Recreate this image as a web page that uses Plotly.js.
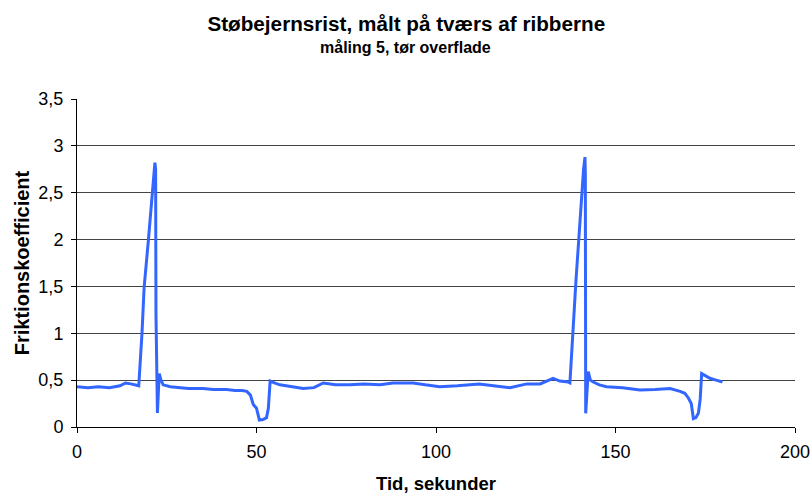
<!DOCTYPE html>
<html>
<head>
<meta charset="utf-8">
<script src="https://cdn.plot.ly/plotly-3.0.1.min.js"></script>
<style>html,body{margin:0;padding:0;background:#fff;}#chart{width:811px;height:496px;}</style>
</head>
<body>
<div id="chart"></div>
<script>
const timeSec = [0, 3, 6, 9, 12, 13.5, 15, 16.5, 17.2, 18.1, 18.7, 19.9, 21.2, 21.7, 21.9, 22.0, 22.4, 22.9, 23.4, 24, 26, 27.8, 31, 35, 38, 41.7, 44, 46, 47.3, 48.3, 49.1, 50.0, 50.8, 51.8, 52.8, 53.3, 53.8, 55, 56.5, 60, 63, 66, 68.6, 72, 76, 80, 84.4, 88, 93.6, 97, 101, 106, 112, 116, 120.6, 125.3, 129, 132.6, 134.5, 136.8, 137.3, 139, 140.1, 141.1, 141.5, 141.6, 141.7, 142.0, 142.4, 143.0, 143.8, 145.5, 147.5, 152, 156.8, 161, 165.2, 168, 169.3, 170.3, 171.1, 171.7, 172.4, 173.1, 173.6, 174, 175, 176.3, 178, 179.8];
const friction = [0.43, 0.42, 0.43, 0.42, 0.44, 0.47, 0.46, 0.45, 0.44, 1.0, 1.49, 2.0, 2.6, 2.82, 2.75, 1.2, 0.15, 0.57, 0.5, 0.45, 0.43, 0.42, 0.41, 0.41, 0.40, 0.40, 0.39, 0.39, 0.38, 0.34, 0.24, 0.20, 0.075, 0.08, 0.10, 0.2, 0.49, 0.47, 0.45, 0.43, 0.41, 0.42, 0.47, 0.45, 0.45, 0.46, 0.45, 0.47, 0.47, 0.45, 0.43, 0.44, 0.46, 0.44, 0.42, 0.46, 0.46, 0.52, 0.49, 0.48, 0.47, 1.57, 2.24, 2.75, 2.88, 2.7, 0.146, 0.35, 0.59, 0.5, 0.48, 0.45, 0.43, 0.42, 0.395, 0.40, 0.41, 0.38, 0.36, 0.31, 0.25, 0.09, 0.10, 0.15, 0.3, 0.57, 0.55, 0.52, 0.50, 0.48];
const yTickVals = [0, 0.5, 1, 1.5, 2, 2.5, 3, 3.5];
const yTickText = ["0", "0,5", "1", "1,5", "2", "2,5", "3", "3,5"];
const xTickVals = [0, 50, 100, 150, 200];

const font = "'Liberation Sans', Arial, sans-serif";
Plotly.newPlot('chart', [{
  x: timeSec, y: friction, type: 'scatter', mode: 'lines',
  line: {color: '#3366FF', width: 3}, hoverinfo: 'none'
}], {
  width: 811, height: 496,
  margin: {l: 77, r: 16, t: 99, b: 69},
  paper_bgcolor: '#fff', plot_bgcolor: '#fff',
  showlegend: false,
  font: {family: font, color: '#000', size: 18},
  title: {text: '<b>Støbejernsrist, målt på tværs af ribberne</b>', font: {family: font, size: 20.7, color: '#000'}, x: 0.501, xanchor: 'center', xref: 'container', y: 0.953, yanchor: 'middle'},
  annotations: [{text: '<b>måling 5, tør overflade</b>', xref: 'paper', yref: 'paper', x: 0.458, y: 1.157, xanchor: 'center', yanchor: 'middle', showarrow: false, font: {family: font, size: 16, color: '#000'}}],
  xaxis: {
    range: [0, 200], tickvals: xTickVals, ticks: 'outside', ticklen: 5, tickcolor: '#000', ticklabelstandoff: 3,
    showline: true, linecolor: '#000', linewidth: 1, showgrid: false, zeroline: false,
    tickfont: {family: font, size: 18}, fixedrange: true,
    title: {text: '<b>Tid, sekunder</b>', font: {family: font, size: 18.5}, standoff: 16}
  },
  yaxis: {
    range: [0, 3.5], tickvals: yTickVals, ticktext: yTickText, ticks: 'outside', ticklen: 5, tickcolor: '#000', ticklabelstandoff: 4,
    showline: true, linecolor: '#000', linewidth: 1, showgrid: true, gridcolor: '#444', gridwidth: 1, zeroline: false,
    tickfont: {family: font, size: 18}, fixedrange: true,
    title: {text: '<b>Friktionskoefficient</b>', font: {family: font, size: 20}, standoff: 3}
  }
}, {staticPlot: true});
</script>
</body>
</html>
